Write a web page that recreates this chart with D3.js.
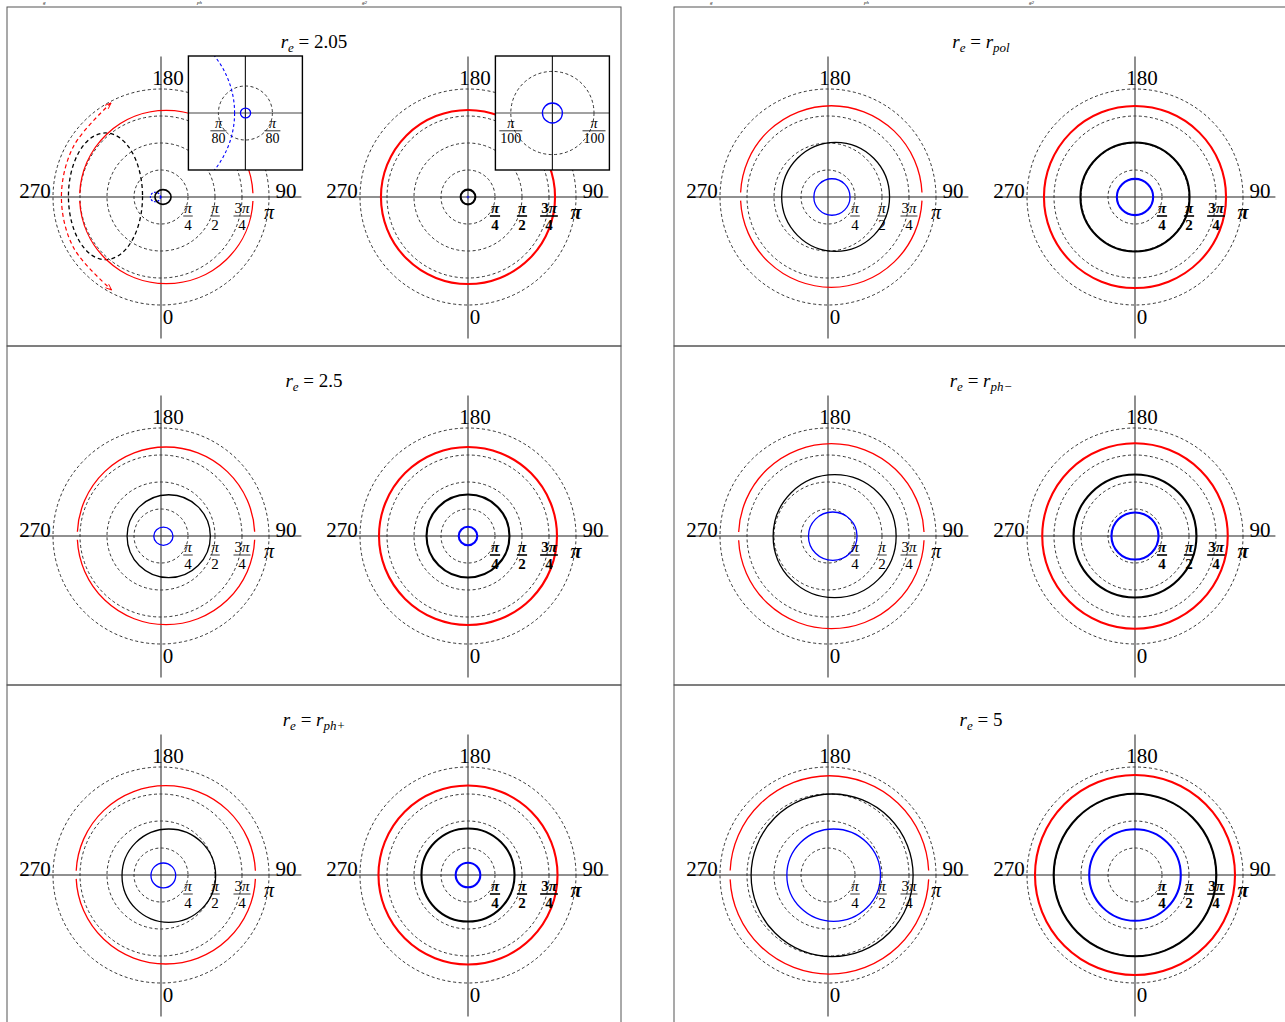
<!DOCTYPE html>
<html><head><meta charset="utf-8">
<script src="https://cdn.jsdelivr.net/npm/d3@7"></script>
<style>
body{margin:0;background:#fff}
svg{display:block}
text{font-family:"Liberation Serif","DejaVu Serif",serif;fill:#000}
</style>
</head><body>
<svg id="c" width="1285" height="1022"></svg>
<script>
// ---------- data (radial values in units of π, angles in degrees) ----------
const titleValue = ["2.05", null, "2.5", null, null, "5"];
const titleSub   = [null, "pol", null, "ph−", "ph+", null];
const angleTicks = [0, 90, 180, 270];
const angleTickLabels = ["0", "90", "180", "270"];
const ringValues = [0.25, 0.5, 0.75, 1];
const ringNum = ["π", "π", "3π", "π"];
const ringDen = ["4", "2", "4", null];
const insetRing = [1/80, 1/100];
const insetDen = ["80", "100"];
const headerFragments = ["g", "ph", "g2"];

// left (thin) polars: extremes of each closed curve [x at 270 side, x at 90 side, y at 0 side, y at 180 side]
const leftRed = [
  [-0.753, 0.852, -0.803, 0.802],
  [-0.810, 0.871, -0.836, 0.845],
  [-0.775, 0.868, -0.821, 0.824],
  [-0.828, 0.890, -0.858, 0.855],
  [-0.786, 0.875, -0.824, 0.827],
  [-0.907, 0.933, -0.917, 0.919]];
const leftBlack = [
  [-0.056, 0.093, -0.068, 0.068],
  [-0.429, 0.570, -0.503, 0.506],
  [-0.314, 0.457, -0.386, 0.382],
  [-0.508, 0.631, -0.571, 0.568],
  [-0.361, 0.506, -0.438, 0.426],
  [-0.712, 0.788, -0.756, 0.750]];
const leftBlue = [
  [-0.0023, 0.0024, -0.0023, 0.0023],
  [-0.131, 0.204, -0.169, 0.169],
  [-0.067, 0.111, -0.086, 0.083],
  [-0.181, 0.269, -0.225, 0.222],
  [-0.093, 0.136, -0.120, 0.111],
  [-0.381, 0.486, -0.429, 0.426]];
// right (thick) polars: radii of concentric circles
const rightRed   = [0.806, 0.843, 0.824, 0.859, 0.829, 0.926];
const rightBlack = [0.068, 0.505, 0.384, 0.569, 0.431, 0.753];
const rightBlue  = [0.0024, 0.168, 0.086, 0.218, 0.114, 0.424];
// extra curves of the r_e = 2.05 left polar
const blackDashedLoop = [-0.857, -0.171, -0.580, 0.593];
const blueDashedLoop  = [-0.098, -0.005, -0.044, 0.044];
const redArrowArc = [[208, 0.986], [240, 0.936], [270, 0.922], [300, 0.936], [332, 0.975]];

// ---------- layout ----------
const panelX = [7, 674], panelY = [7, 346, 685], panelW = 614, panelH = 339;
const polarDX = [154, 461], polarDY = 190;
const R = 108;
const rs = d3.scaleLinear().domain([0, 1]).range([0, R]);
const as = d3.scaleLinear().domain([0, 360]).range([Math.PI, -Math.PI]);
const xs = d3.scaleLinear().domain([-1, 1]).range([-R, R]);
const ys = d3.scaleLinear().domain([-1, 1]).range([R, -R]);

const svg = d3.select("#c");
const defs = svg.append("defs");
defs.append("marker").attr("id", "arr").attr("viewBox", "-10 -5 12 10")
  .attr("refX", 0).attr("refY", 0).attr("markerWidth", 9).attr("markerHeight", 8)
  .attr("markerUnits", "userSpaceOnUse").attr("orient", "auto-start-reverse")
  .append("path").attr("d", "M-8,-3.2L0,0L-8,3.2").attr("fill", "none")
  .attr("stroke", "red").attr("stroke-width", 1.2);

// header fragments at the top edge
panelX.forEach(px => {
  [36, 190, 355].forEach((dx, i) => {
    svg.append("text").attr("x", px + dx).attr("y", 4).attr("font-size", 5)
      .attr("font-style", "italic").text(headerFragments[i]);
  });
});

function ell(ext, sx, sy) {
  const x0 = sx(ext[0]), x1 = sx(ext[1]), y0 = sy(ext[2]), y1 = sy(ext[3]);
  return {cx: (x0 + x1) / 2, cy: (y0 + y1) / 2, rx: (x1 - x0) / 2, ry: (y0 - y1) / 2};
}
function drawEll(g, e, color, w, dash) {
  const el = g.append("ellipse").attr("cx", e.cx).attr("cy", e.cy)
    .attr("rx", Math.max(e.rx, 0.2)).attr("ry", Math.max(e.ry, 0.2))
    .attr("fill", "none").attr("stroke", color).attr("stroke-width", w);
  if (dash) el.attr("stroke-dasharray", dash);
  return el;
}
function gapEll(g, e, color, w, gap) {
  const c = Math.cos(gap), s = Math.sin(gap);
  const d = `M${e.cx + e.rx * c},${e.cy - e.ry * s}A${e.rx},${e.ry} 0 0 0 ${e.cx - e.rx * c},${e.cy - e.ry * s}` +
            `M${e.cx - e.rx * c},${e.cy + e.ry * s}A${e.rx},${e.ry} 0 0 0 ${e.cx + e.rx * c},${e.cy + e.ry * s}`;
  g.append("path").attr("d", d).attr("fill", "none").attr("stroke", color).attr("stroke-width", w);
}
function fraction(g, x, y0, num, den, size, bold) {
  const t = g.append("text").attr("x", x).attr("y", y0).attr("text-anchor", "middle")
    .attr("font-size", size).attr("font-weight", bold ? "bold" : "normal");
  if (num.length > 1) { t.append("tspan").text(num[0]); t.append("tspan").attr("font-style", "italic").text(num.slice(1)); }
  else t.append("tspan").attr("font-style", "italic").text(num);
  const d = g.append("text").attr("x", x).attr("y", y0 + size * 1.1).attr("text-anchor", "middle")
    .attr("font-size", size).attr("font-weight", bold ? "bold" : "normal").text(den);
  const w = Math.max(t.node().getComputedTextLength(), d.node().getComputedTextLength()) + 2;
  g.append("line").attr("x1", x - w / 2).attr("x2", x + w / 2)
    .attr("y1", y0 + size * 0.2).attr("y2", y0 + size * 0.2)
    .attr("stroke", "#000").attr("stroke-width", bold ? 1.6 : 0.8);
}

for (let p = 0; p < 6; p++) {
  const col = p % 2, row = Math.floor(p / 2);
  const px = panelX[col], py = panelY[row];
  const panel = svg.append("g").attr("transform", `translate(${px},${py})`);
  panel.append("rect").attr("x", 0).attr("y", 0).attr("width", panelW).attr("height", panelH)
    .attr("fill", "none").attr("stroke", "#555").attr("stroke-width", 1);
  // title
  const tt = panel.append("text").attr("x", panelW / 2).attr("y", 41).attr("text-anchor", "middle").attr("font-size", 19);
  tt.append("tspan").attr("font-style", "italic").text("r");
  tt.append("tspan").attr("font-style", "italic").attr("font-size", 13).attr("dy", 4).text("e");
  tt.append("tspan").attr("dy", -4).text(" = ");
  if (titleValue[p]) tt.append("tspan").text(titleValue[p]);
  else {
    tt.append("tspan").attr("font-style", "italic").text("r");
    tt.append("tspan").attr("font-style", "italic").attr("font-size", 13).attr("dy", 4).text(titleSub[p]);
  }

  for (let k = 0; k < 2; k++) {
    const bold = k === 1;
    const g = panel.append("g").attr("transform", `translate(${polarDX[k]},${polarDY})`);
    // reference rings
    g.selectAll("circle.ring").data(ringValues).join("circle").attr("class", "ring")
      .attr("r", d => rs(d)).attr("fill", "none").attr("stroke", "#000")
      .attr("stroke-width", 0.8).attr("stroke-dasharray", "3,2.5");
    // axes
    g.append("line").attr("x1", xs(-1.3)).attr("x2", xs(1.3)).attr("y1", 0).attr("y2", 0)
      .attr("stroke", "#222").attr("stroke-width", 1.2);
    g.append("line").attr("x1", 0).attr("x2", 0).attr("y1", ys(1.3)).attr("y2", ys(-1.31))
      .attr("stroke", "#444").attr("stroke-width", 1.2);
    // curves
    const lw = bold ? 2.1 : 1.3;
    if (!bold) {
      if (p === 0) {
        drawEll(g, ell(blackDashedLoop, xs, ys), "#000", 1.3, "4,3");
        g.append("path").datum(redArrowArc)
          .attr("d", d3.lineRadial().angle(d => as(d[0])).radius(d => rs(d[1])).curve(d3.curveCatmullRom))
          .attr("fill", "none").attr("stroke", "red").attr("stroke-width", 1.2)
          .attr("stroke-dasharray", "4,3").attr("marker-start", "url(#arr)").attr("marker-end", "url(#arr)");
        drawEll(g, ell(blueDashedLoop, xs, ys), "blue", 1.2, "2,1.5");
      }
      gapEll(g, ell(leftRed[p], xs, ys), "red", lw, 0.045);
      drawEll(g, ell(leftBlack[p], xs, ys), "#000", p === 0 ? 1.6 : lw);
      drawEll(g, ell(leftBlue[p], xs, ys), "blue", lw);
    } else {
      g.append("circle").attr("r", rs(rightRed[p])).attr("fill", "none").attr("stroke", "red").attr("stroke-width", lw);
      g.append("circle").attr("r", rs(rightBlack[p])).attr("fill", "none").attr("stroke", "#000").attr("stroke-width", lw);
      g.append("circle").attr("r", Math.max(rs(rightBlue[p]), 0.2)).attr("fill", "none").attr("stroke", "blue").attr("stroke-width", lw);
    }
    // angle tick labels
    const adj = {0: [7, 6], 90: [4, 1], 180: [7, 9], 270: [-5, 1]};
    angleTicks.forEach((a, i) => {
      const pt = d3.pointRadial(as(a), rs(1.12));
      g.append("text").attr("x", pt[0] + adj[a][0]).attr("y", pt[1] + adj[a][1])
        .attr("text-anchor", "middle").attr("font-size", 21).text(angleTickLabels[i]);
    });
    // ring labels
    ringValues.forEach((v, i) => {
      if (ringDen[i]) fraction(g, rs(v), 16, ringNum[i], ringDen[i], 15, bold);
      else g.append("text").attr("x", rs(v)).attr("y", 22).attr("text-anchor", "middle")
        .attr("font-size", 20).attr("font-style", "italic").attr("font-weight", bold ? "bold" : "normal").text(ringNum[i]);
    });
    // inset for r_e = 2.05
    if (p === 0) {
      const ig = g.append("g").attr("transform", "translate(84.4,-84)");
      const half = 57;
      const ir = [2160, 4160][k];
      const irs = d3.scaleLinear().domain([0, 1]).range([0, ir]);
      const ixs = d3.scaleLinear().domain([-1, 1]).range([-ir, ir]);
      const iys = d3.scaleLinear().domain([-1, 1]).range([ir, -ir]);
      ig.append("rect").attr("x", -half).attr("y", -half).attr("width", 2 * half).attr("height", 2 * half)
        .attr("fill", "#fff");
      const cg = ig.append("g");
      cg.append("circle").attr("r", irs(insetRing[k])).attr("fill", "none").attr("stroke", "#000")
        .attr("stroke-width", 0.8).attr("stroke-dasharray", "3,2.5");
      cg.append("line").attr("x1", -half).attr("x2", half).attr("y1", 0).attr("y2", 0).attr("stroke", "#444").attr("stroke-width", 1.2);
      cg.append("line").attr("x1", 0).attr("x2", 0).attr("y1", -half).attr("y2", half).attr("stroke", "#222").attr("stroke-width", 1.2);
      if (k === 0) {
        const e = ell(blueDashedLoop, ixs, iys);
        defs.append("clipPath").attr("id", "iclip").append("rect")
          .attr("x", -half).attr("y", -half).attr("width", 2 * half).attr("height", 2 * half);
        drawEll(cg.append("g").attr("clip-path", "url(#iclip)"), e, "blue", 1.1, "3,2.5");
        drawEll(cg, ell(leftBlue[0], ixs, iys), "blue", 1.3);
      } else {
        cg.append("circle").attr("r", irs(rightBlue[0])).attr("fill", "none").attr("stroke", "blue").attr("stroke-width", 1.3);
      }
      [-1, 1].forEach(sgn => fraction(ig, sgn * irs(insetRing[k]), 15, "π", insetDen[k], 14, false));
      ig.append("rect").attr("x", -half).attr("y", -half).attr("width", 2 * half).attr("height", 2 * half)
        .attr("fill", "none").attr("stroke", "#000").attr("stroke-width", 1.4);
    }
  }
}
</script>
</body></html>
